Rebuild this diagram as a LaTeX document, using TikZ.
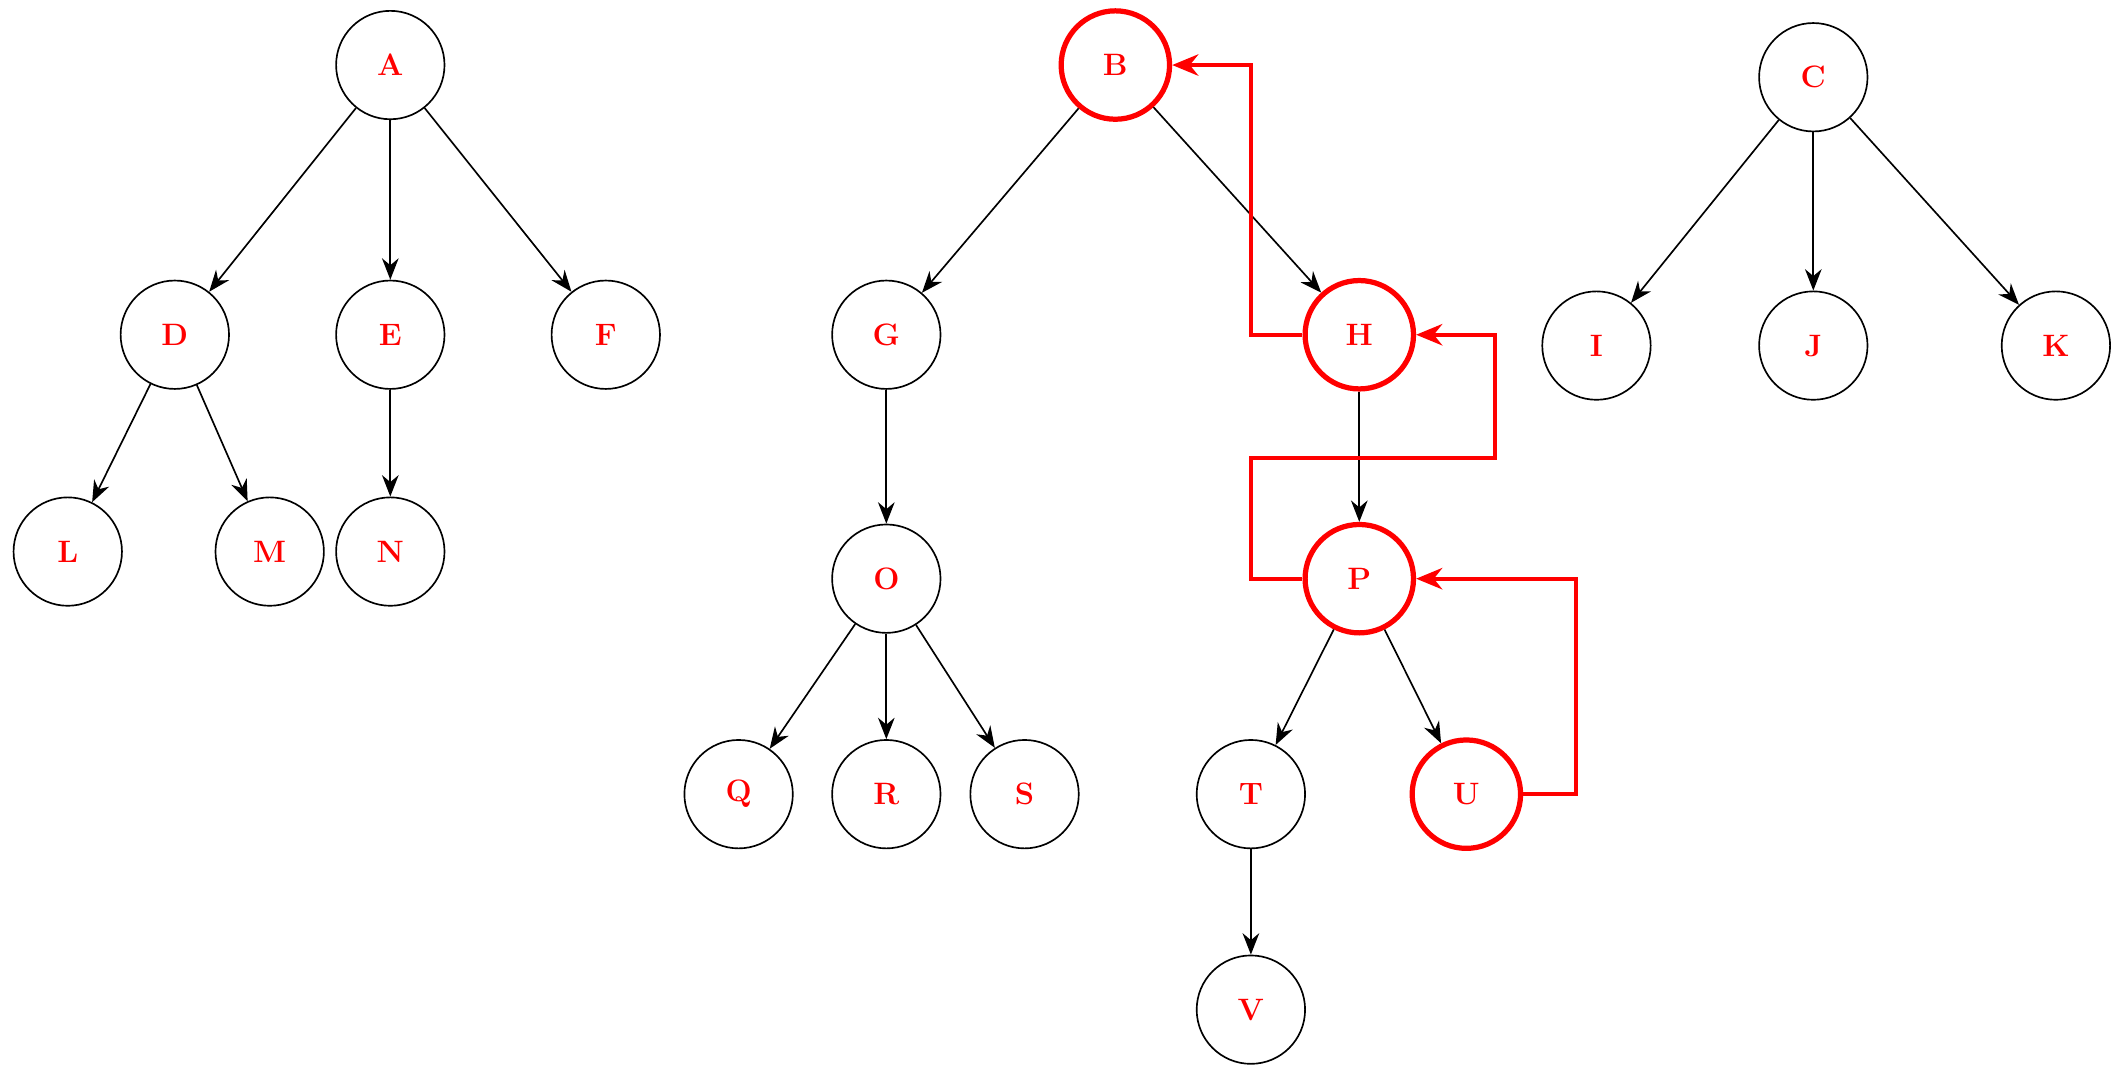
\documentclass[tikz,border=0pt]{standalone}
\usetikzlibrary{arrows.meta}
\begin{document}
\begin{tikzpicture}[x=0.02cm,y=-0.02cm,
  nd/.style={circle,draw,line width=0.7pt,minimum size=1.6cm,inner sep=0pt,text=red,font=\fontsize{13}{15}\selectfont\bfseries},
  hl/.style={nd,draw=red,line width=2.2pt},
  ed/.style={-{Stealth[length=9pt,width=7pt]},line width=0.7pt},
  re/.style={-{Stealth[length=11pt,width=9pt]},draw=red,line width=1.6pt}]
\useasboundingbox (0,0) rectangle (1568,800);
\node[nd] (A) at (288,48) {A};
\node[hl] (B) at (823,48) {B};
\node[nd] (C) at (1338,57) {C};
\node[nd] (D) at (129,247) {D};
\node[nd] (E) at (288,247) {E};
\node[nd] (F) at (447,247) {F};
\node[nd] (G) at (654,247) {G};
\node[hl] (H) at (1003,247) {H};
\node[nd] (I) at (1178,255) {I};
\node[nd] (J) at (1338,255) {J};
\node[nd] (K) at (1517,255) {K};
\node[nd] (L) at (50,407) {L};
\node[nd] (M) at (199,407) {M};
\node[nd] (N) at (288,407) {N};
\node[nd] (O) at (654,427) {O};
\node[hl] (P) at (1003,427) {P};
\node[nd] (Q) at (545,586) {Q};
\node[nd] (R) at (654,586) {R};
\node[nd] (S) at (756,586) {S};
\node[nd] (T) at (923,586) {T};
\node[hl] (U) at (1082,586) {U};
\node[nd] (V) at (923,745) {V};
\foreach \a/\b in {A/D,A/E,A/F,D/L,D/M,E/N,B/G,B/H,G/O,O/Q,O/R,O/S,H/P,P/T,P/U,T/V,C/I,C/J,C/K}
  \draw[ed] (\a) -- (\b);
\draw[re] (H.west) -- (923,247) -- (923,48) -- (B.east);
\draw[re] (P.west) -- (923,427) -- (923,338) -- (1103,338) -- (1103,247) -- (H.east);
\draw[re] (U.east) -- (1163,586) -- (1163,427) -- (P.east);
\end{tikzpicture}
\end{document}
